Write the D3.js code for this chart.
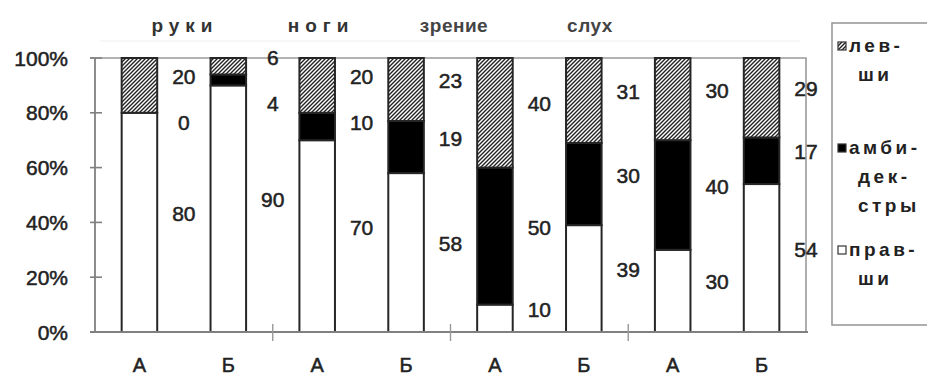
<!DOCTYPE html>
<html>
<head>
<meta charset="utf-8">
<script src="https://cdn.jsdelivr.net/npm/d3@7"></script>
<style>
  html, body { margin: 0; padding: 0; background: #fff; }
  svg { display: block; font-family: "Liberation Sans", Arial, sans-serif; }
  .heavy { stroke: #222; stroke-width: 0.5px; paint-order: stroke; }
</style>
</head>
<body>
<svg id="chart" width="927" height="378"></svg>
<script>
// Groups of measurements and the two samples (А, Б) in each group
const groups = ["руки", "ноги", "зрение", "слух"];
const samples = ["А", "Б", "А", "Б", "А", "Б", "А", "Б"];

// Share of each type, per bar (percent)
const rightHanded = [80, 90, 70, 58, 10, 39, 30, 54];   // правши
const ambidextrous = [0, 4, 10, 19, 50, 30, 40, 17];    // амбидекстры
const leftHanded = [20, 6, 20, 23, 40, 31, 30, 29];     // левши

const seriesKeys = ["right", "ambi", "left"];
const legendLines = [
  ["лев-", "ши"],
  ["амби-", "дек-", "стры"],
  ["прав-", "ши"]
];
const yTicks = [0, 20, 40, 60, 80, 100];

const rows = samples.map((s, i) => ({
  id: i, sample: s,
  right: rightHanded[i], ambi: ambidextrous[i], left: leftHanded[i]
}));

const svg = d3.select("#chart");
const plot = { left: 95, right: 806, top: 58, bottom: 332 };

const x = d3.scaleBand()
  .domain(rows.map(d => d.id))
  .range([plot.left, plot.right])
  .paddingInner(0.6)
  .paddingOuter(0.3);

const y = d3.scaleLinear().domain([0, 100]).range([plot.bottom, plot.top]);

// Hatch pattern for the left-handed segments
const defs = svg.append("defs");
const pat = defs.append("pattern")
  .attr("id", "hatch")
  .attr("patternUnits", "userSpaceOnUse")
  .attr("width", 4).attr("height", 4);
pat.append("rect").attr("width", 4).attr("height", 4).attr("fill", "#fff");
pat.append("path")
  .attr("d", "M-1,1 l2,-2 M0,4 l4,-4 M3,5 l2,-2")
  .attr("stroke", "#222").attr("stroke-width", 1.4);

const fills = { right: "#ffffff", ambi: "#000000", left: "url(#hatch)" };

// faint rule above the plot
svg.append("line")
  .attr("x1", 100).attr("x2", 800).attr("y1", 41).attr("y2", 41)
  .attr("stroke", "#efefef").attr("stroke-width", 1);

// Plot frame (top and right)
svg.append("path")
  .attr("d", `M${plot.left - 5},${plot.top} H${plot.right} V${plot.bottom}`)
  .attr("fill", "none").attr("stroke", "#9a9a9a").attr("stroke-width", 1.6);

// Stacked bars
const stack = d3.stack().keys(seriesKeys)(rows);
const layer = svg.append("g").selectAll("g")
  .data(stack).join("g")
  .attr("fill", d => fills[d.key]);

layer.selectAll("rect")
  .data(d => d.filter(p => p[1] > p[0]))
  .join("rect")
  .attr("x", p => x(p.data.id))
  .attr("width", x.bandwidth())
  .attr("y", p => y(p[1]))
  .attr("height", p => y(p[0]) - y(p[1]))
  .attr("stroke", "#262626")
  .attr("stroke-width", 2);

// Y axis
const yAxis = svg.append("g");
yAxis.append("line")
  .attr("x1", plot.left).attr("x2", plot.left)
  .attr("y1", plot.top).attr("y2", plot.bottom)
  .attr("stroke", "#808080").attr("stroke-width", 1.8);
yAxis.selectAll(".tick").data(yTicks).join("line")
  .attr("x1", plot.left - 5).attr("x2", plot.left + 7)
  .attr("y1", d => y(d)).attr("y2", d => y(d))
  .attr("stroke", "#808080").attr("stroke-width", 1.6);
yAxis.selectAll("text").data(yTicks).join("text")
  .attr("class", "heavy")
  .attr("x", plot.left - 27)
  .attr("y", d => y(d))
  .attr("dy", "0.36em")
  .attr("text-anchor", "end")
  .attr("font-size", 21)
  .attr("fill", "#222")
  .text(d => d + "%");

// X axis
svg.append("line")
  .attr("x1", plot.left - 5).attr("x2", plot.right + 2)
  .attr("y1", plot.bottom).attr("y2", plot.bottom)
  .attr("stroke", "#808080").attr("stroke-width", 1.8);

// Group separators on the x axis
const step = x.step();
d3.range(1, groups.length).forEach(g => {
  const gx = plot.left + g * 2 * step;
  svg.append("line")
    .attr("x1", gx).attr("x2", gx)
    .attr("y1", plot.bottom - 8).attr("y2", plot.bottom + 9)
    .attr("stroke", "#999").attr("stroke-width", 1.4);
});

svg.append("g").selectAll("text").data(rows).join("text")
  .attr("class", "heavy")
  .attr("x", d => x(d.id) + x.bandwidth() / 2)
  .attr("y", 372)
  .attr("text-anchor", "middle")
  .attr("font-size", 20)
  .attr("fill", "#222")
  .text(d => d.sample);

// Group titles
const titleX = d3.scaleLinear().domain([0, groups.length - 1]).range([182, 590]);
svg.append("g").selectAll("text").data(groups).join("text")
  .attr("x", (d, i) => titleX(i) + (i < 2 ? 3 : 0))
  .attr("y", 26)
  .attr("dy", "0.3em")
  .attr("text-anchor", "middle")
  .attr("font-size", 19)
  .attr("font-weight", "bold")
  .attr("letter-spacing", (d, i) => i < 2 ? 6 : 0.5)
  .attr("fill", (d, i) => i < 2 ? "#333" : "#444")
  .text(d => d);

// Value labels beside each bar, spread apart so they do not collide
const labels = [];
rows.forEach(r => {
  const segs = [];
  let base = 0;
  seriesKeys.forEach(k => {
    segs.push({ value: r[k], ty: y(base + r[k] / 2) - 9 });
    base += r[k];
  });
  segs.sort((a, b) => a.ty - b.ty);
  let prev = -Infinity;
  segs.forEach(s => {
    s.ty = Math.max(s.ty, plot.top - 1, prev + 46);
    prev = s.ty;
    labels.push({ id: r.id, value: s.value, ty: s.ty });
  });
});

svg.append("g").selectAll("text").data(labels).join("text")
  .attr("class", "heavy")
  .attr("x", d => x(d.id) + x.bandwidth() / 2 + step / 2)
  .attr("y", d => d.ty)
  .attr("dy", "0.36em")
  .attr("text-anchor", "middle")
  .attr("font-size", 21)
  .attr("fill", "#222")
  .text(d => d.value);

// Legend
const legend = svg.append("g");
legend.append("rect")
  .attr("x", 832).attr("y", 23)
  .attr("width", 120).attr("height", 302)
  .attr("fill", "#fff")
  .attr("stroke", "#9a9a9a").attr("stroke-width", 1.6);

const legendKeys = ["left", "ambi", "right"];
legendKeys.forEach((k, i) => {
  const top = 46 + i * 102;
  legend.append("rect")
    .attr("x", 838).attr("y", top - 4)
    .attr("width", 8).attr("height", 8)
    .attr("fill", fills[k])
    .attr("stroke", "#333").attr("stroke-width", 1.2);
  legendLines[i].forEach((t, j) => {
    legend.append("text")
      .attr("x", j === 0 ? 849 : 858)
      .attr("y", top + j * 29)
      .attr("dy", "0.33em")
      .attr("font-size", 19)
      .attr("font-weight", "bold")
      .attr("letter-spacing", 3.5)
      .attr("fill", "#222")
      .text(t);
  });
});
</script>
</body>
</html>
